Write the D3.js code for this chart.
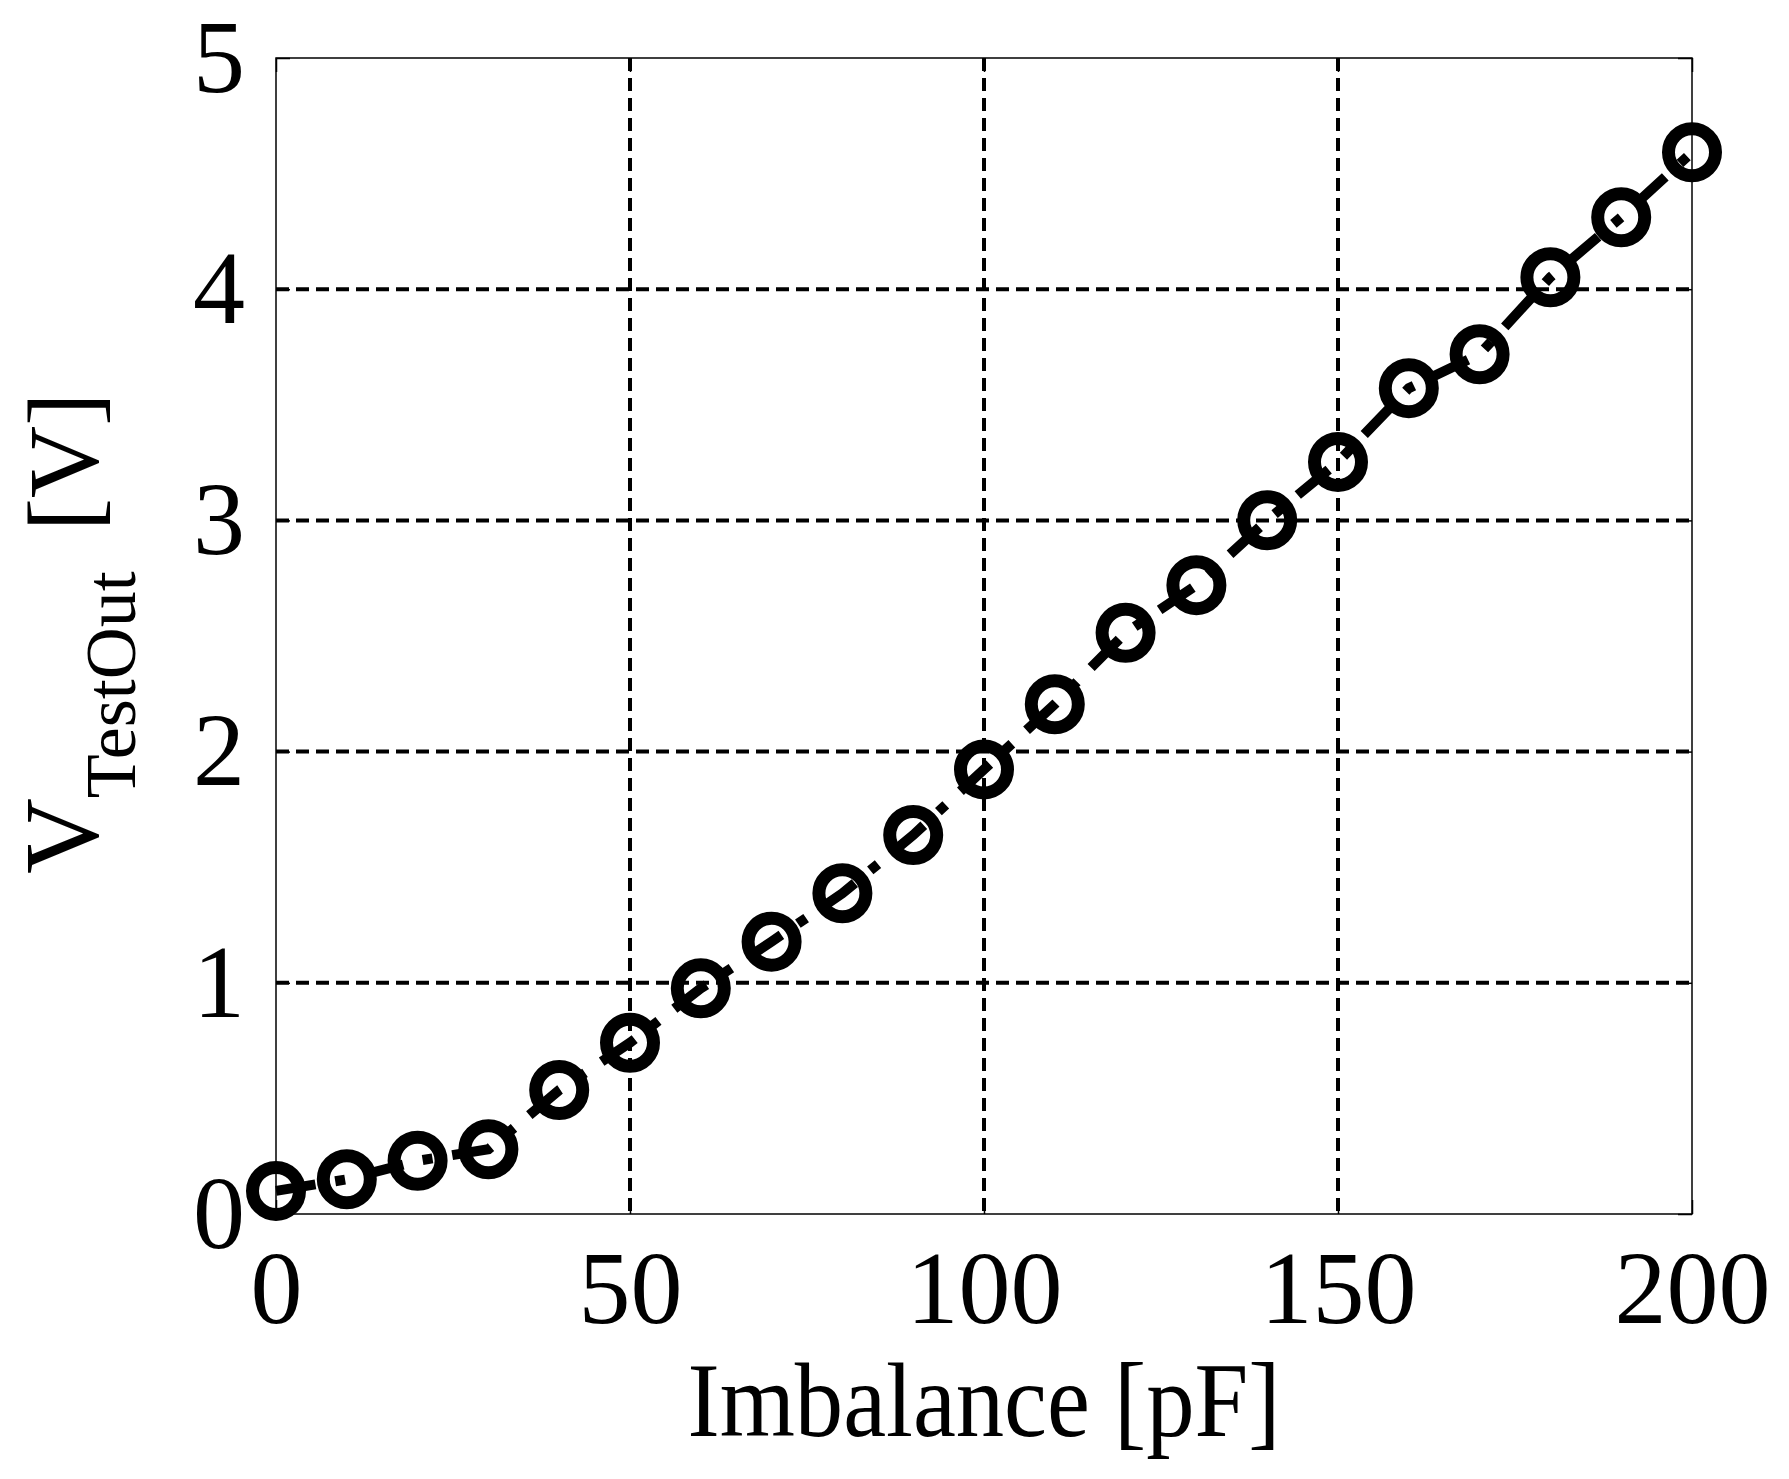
<!DOCTYPE html>
<html>
<head>
<meta charset="utf-8">
<script src="https://cdn.jsdelivr.net/npm/d3@7"></script>
<style>
  html, body { margin: 0; padding: 0; background: #fff; }
  svg { display: block; }
</style>
</head>
<body>
<script>
// ---- data ----
const imbalance = [0, 10, 20, 30, 40, 50, 60, 70, 80, 90, 100, 110, 120, 130, 140, 150, 160, 170, 180, 190, 200];
const vTestOut = [0.10, 0.15, 0.23, 0.28, 0.536, 0.741, 0.976, 1.178, 1.387, 1.639, 1.923, 2.205, 2.514, 2.720, 3.001, 3.253, 3.572, 3.719, 4.052, 4.311, 4.592];
const xTicks = [0, 50, 100, 150, 200];
const yTicks = [0, 1, 2, 3, 4, 5];
const xLabel = "Imbalance [pF]";
const yLabelMain = "V";
const yLabelSub = "TestOut";
const yLabelUnit = "[V]";

// ---- layout ----
const W = 1789, H = 1479;
const m = { left: 276, right: 1692, top: 58, bottom: 1214 };
const FONT = "'Liberation Serif', 'Times New Roman', Times, serif";
const FS = 104;

const svg = d3.select("body").append("svg")
  .attr("width", W).attr("height", H)
  .attr("viewBox", `0 0 ${W} ${H}`);
svg.append("rect").attr("width", W).attr("height", H).attr("fill", "#fff");

const x = d3.scaleLinear().domain([0, 200]).range([m.left, m.right]);
const y = d3.scaleLinear().domain([0, 5]).range([m.bottom, m.top]);

// grid
const grid = svg.append("g").attr("stroke", "#000").attr("stroke-width", 4)
  .attr("stroke-dasharray", "13,7").attr("fill", "none");
grid.selectAll("line.gx").data(xTicks.filter(d => d > 0 && d < 200)).join("line")
  .attr("class", "gx")
  .attr("x1", d => x(d)).attr("x2", d => x(d))
  .attr("y1", m.top).attr("y2", m.bottom);
grid.selectAll("line.gy").data(yTicks.filter(d => d > 0 && d < 5)).join("line")
  .attr("class", "gy")
  .attr("x1", m.left).attr("x2", m.right)
  .attr("y1", d => y(d)).attr("y2", d => y(d));

// axes (ticks inside)
function styleAxis(g) {
  g.select(".domain").remove();
  g.selectAll(".tick line").attr("stroke", "#000").attr("stroke-width", 1.5);
  g.selectAll(".tick text").attr("font-family", FONT).attr("font-size", FS).attr("fill", "#000");
}
svg.append("g").attr("transform", `translate(0,${m.bottom})`)
  .call(d3.axisBottom(x).tickValues(xTicks).tickFormat(d3.format("d")).tickSize(-14).tickPadding(35))
  .call(styleAxis);
svg.append("g").attr("transform", `translate(0,${m.top})`)
  .call(d3.axisTop(x).tickValues(xTicks).tickFormat("").tickSize(-14))
  .call(styleAxis);
svg.append("g").attr("transform", `translate(${m.left},0)`)
  .call(d3.axisLeft(y).tickValues(yTicks).tickFormat(d3.format("d")).tickSize(-14).tickPadding(31))
  .call(styleAxis);
svg.append("g").attr("transform", `translate(${m.right},0)`)
  .call(d3.axisRight(y).tickValues(yTicks).tickFormat("").tickSize(-14))
  .call(styleAxis);

// box
svg.append("rect")
  .attr("x", m.left).attr("y", m.top)
  .attr("width", m.right - m.left).attr("height", m.bottom - m.top)
  .attr("fill", "none").attr("stroke", "#000").attr("stroke-width", 1.5);

// data line (dash-dot)
const pts = imbalance.map((d, i) => [d, vTestOut[i]]);
svg.append("path")
  .datum(pts)
  .attr("d", d3.line().x(d => x(d[0])).y(d => y(d[1])))
  .attr("fill", "none").attr("stroke", "#000").attr("stroke-width", 10)
  .attr("stroke-dasharray", "40,20,10,20").attr("stroke-linecap", "butt");

// markers
svg.append("g").selectAll("circle").data(pts).join("circle")
  .attr("cx", d => x(d[0])).attr("cy", d => y(d[1]))
  .attr("r", 23.5).attr("fill", "none").attr("stroke", "#000").attr("stroke-width", 13);

// x label
svg.append("text")
  .attr("x", (m.left + m.right) / 2).attr("y", 1436)
  .attr("text-anchor", "middle")
  .attr("font-family", FONT).attr("font-size", 106).attr("fill", "#000")
  .attr("textLength", 593).attr("lengthAdjust", "spacingAndGlyphs")
  .text(xLabel);

// y label
const yl = svg.append("text")
  .attr("transform", `translate(97,874) rotate(-90)`)
  .attr("text-anchor", "start")
  .attr("font-family", FONT).attr("fill", "#000");
yl.append("tspan").attr("font-size", 105).text(yLabelMain);
yl.append("tspan").attr("font-size", 72).attr("dy", 38).text(yLabelSub);
yl.append("tspan").attr("font-size", 100).attr("dy", -38).attr("dx", 40).text(yLabelUnit);
</script>
</body>
</html>
